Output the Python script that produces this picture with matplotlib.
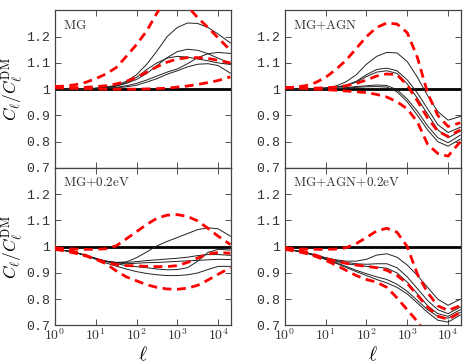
import numpy as np
import matplotlib
matplotlib.use('Agg')
import matplotlib.pyplot as plt
from matplotlib.ticker import FixedLocator, FixedFormatter, LogLocator, NullFormatter

plt.rcParams['mathtext.fontset'] = 'cm'

# multipole sampling (log spaced)
ell = [1, 1.78, 3.16, 5.62, 10, 17.8, 31.6, 56.2, 100, 178, 316, 562,
       1000, 1780, 3160, 5620, 10000, 20000]

# MG
mg_black = [
    [1.0, 1.0, 1.001, 1.002, 1.004, 1.008, 1.015, 1.03, 1.055, 1.095, 1.145, 1.20, 1.235, 1.252, 1.25, 1.235, 1.21, 1.176],
    [1.0, 1.0, 1.0, 1.001, 1.003, 1.006, 1.012, 1.022, 1.037, 1.06, 1.09, 1.12, 1.143, 1.152, 1.148, 1.135, 1.118, 1.098],
    [1.0, 1.0, 1.0, 1.001, 1.003, 1.006, 1.012, 1.025, 1.045, 1.075, 1.10, 1.118, 1.125, 1.122, 1.115, 1.108, 1.10, 1.094],
    [1.0, 1.0, 1.0, 1.0, 1.002, 1.004, 1.007, 1.013, 1.022, 1.035, 1.05, 1.065, 1.077, 1.097, 1.12, 1.135, 1.14, 1.136],
    [1.0, 1.0, 1.0, 1.0, 1.001, 1.003, 1.005, 1.009, 1.015, 1.027, 1.04, 1.057, 1.07, 1.085, 1.095, 1.097, 1.09, 1.061],
]
mg_red = [
    [1.01, 1.012, 1.017, 1.026, 1.04, 1.058, 1.082, 1.125, 1.17, 1.222, 1.29, 1.35, 1.37, 1.315, 1.272, 1.235, 1.195, 1.148],
    [1.005, 1.005, 1.006, 1.007, 1.01, 1.013, 1.02, 1.03, 1.045, 1.065, 1.085, 1.103, 1.115, 1.12, 1.12, 1.117, 1.11, 1.10],
    [1.007, 1.005, 1.003, 1.002, 1.001, 1.0, 1.0, 1.0, 1.0, 1.001, 1.002, 1.004, 1.008, 1.012, 1.018, 1.025, 1.033, 1.047],
]

# MG+AGN
agn_black = [
    [1.0, 1.0, 1.001, 1.002, 1.005, 1.012, 1.028, 1.055, 1.095, 1.125, 1.14, 1.138, 1.105, 1.045, 0.975, 0.915, 0.882, 0.896],
    [1.0, 1.0, 1.0, 1.002, 1.004, 1.008, 1.015, 1.03, 1.055, 1.075, 1.08, 1.07, 1.035, 0.985, 0.925, 0.865, 0.835, 0.855],
    [1.0, 1.0, 1.0, 1.002, 1.004, 1.007, 1.013, 1.027, 1.048, 1.065, 1.07, 1.06, 1.02, 0.965, 0.905, 0.845, 0.815, 0.84],
    [1.0, 1.0, 1.0, 1.001, 1.002, 1.004, 1.006, 1.01, 1.013, 1.016, 1.014, 0.998, 0.962, 0.915, 0.86, 0.815, 0.796, 0.825],
    [1.0, 1.0, 1.0, 1.0, 1.001, 1.002, 1.004, 1.007, 1.009, 1.01, 1.008, 0.99, 0.952, 0.90, 0.845, 0.80, 0.783, 0.81],
]
agn_red = [
    [1.005, 1.008, 1.013, 1.025, 1.045, 1.075, 1.11, 1.155, 1.20, 1.235, 1.252, 1.248, 1.215, 1.12, 0.985, 0.90, 0.858, 0.872],
    [1.005, 1.005, 1.004, 1.004, 1.005, 1.008, 1.013, 1.022, 1.035, 1.05, 1.058, 1.055, 1.015, 0.955, 0.89, 0.84, 0.82, 0.845],
    [1.007, 1.005, 1.003, 1.0, 0.998, 0.996, 0.993, 0.99, 0.987, 0.98, 0.97, 0.952, 0.925, 0.875, 0.79, 0.755, 0.745, 0.80],
]

# MG+0.2eV
nu_black = [
    [0.99, 0.985, 0.978, 0.967, 0.955, 0.945, 0.94, 0.942, 0.958, 0.98, 1.003, 1.02, 1.035, 1.05, 1.065, 1.072, 1.068, 1.04],
    [0.99, 0.985, 0.978, 0.967, 0.955, 0.945, 0.94, 0.94, 0.943, 0.947, 0.95, 0.953, 0.956, 0.96, 0.966, 0.97, 0.97, 0.967],
    [0.99, 0.985, 0.978, 0.967, 0.955, 0.945, 0.938, 0.935, 0.937, 0.939, 0.94, 0.942, 0.944, 0.946, 0.948, 0.95, 0.952, 0.951],
    [0.99, 0.985, 0.978, 0.967, 0.955, 0.943, 0.935, 0.928, 0.924, 0.92, 0.915, 0.912, 0.913, 0.92, 0.945, 0.978, 0.99, 0.987],
    [0.99, 0.985, 0.978, 0.966, 0.952, 0.938, 0.926, 0.915, 0.905, 0.898, 0.893, 0.89, 0.89, 0.893, 0.9, 0.913, 0.925, 0.925],
]
nu_red = [
    [0.993, 0.992, 0.991, 0.99, 0.99, 0.992, 1.003, 1.03, 1.057, 1.085, 1.108, 1.12, 1.122, 1.115, 1.098, 1.07, 1.04, 1.008],
    [0.997, 0.99, 0.98, 0.967, 0.953, 0.94, 0.932, 0.928, 0.927, 0.925, 0.924, 0.924, 0.928, 0.94, 0.957, 0.972, 0.978, 0.975],
    [0.99, 0.983, 0.975, 0.965, 0.952, 0.935, 0.908, 0.885, 0.87, 0.855, 0.845, 0.839, 0.838, 0.842, 0.853, 0.873, 0.895, 0.92],
]

# MG+AGN+0.2eV
agnnu_black = [
    [0.99, 0.985, 0.978, 0.968, 0.958, 0.95, 0.945, 0.945, 0.952, 0.968, 0.973, 0.96, 0.93, 0.89, 0.845, 0.80, 0.777, 0.80],
    [0.99, 0.985, 0.978, 0.968, 0.957, 0.947, 0.94, 0.935, 0.933, 0.935, 0.935, 0.92, 0.885, 0.84, 0.795, 0.76, 0.745, 0.77],
    [0.99, 0.985, 0.978, 0.967, 0.956, 0.945, 0.935, 0.93, 0.925, 0.922, 0.918, 0.90, 0.865, 0.82, 0.775, 0.745, 0.735, 0.76],
    [0.99, 0.985, 0.977, 0.966, 0.953, 0.94, 0.925, 0.91, 0.897, 0.885, 0.875, 0.857, 0.83, 0.795, 0.76, 0.735, 0.728, 0.75],
    [0.99, 0.985, 0.977, 0.965, 0.951, 0.937, 0.921, 0.905, 0.89, 0.875, 0.862, 0.845, 0.82, 0.785, 0.75, 0.72, 0.713, 0.74],
]
agnnu_red = [
    [0.993, 0.992, 0.991, 0.99, 0.99, 0.991, 0.996, 1.012, 1.035, 1.06, 1.07, 1.055, 1.0, 0.895, 0.825, 0.775, 0.757, 0.776],
    [0.997, 0.99, 0.98, 0.968, 0.955, 0.945, 0.937, 0.93, 0.925, 0.92, 0.91, 0.89, 0.86, 0.815, 0.77, 0.735, 0.724, 0.75],
    [0.99, 0.983, 0.975, 0.963, 0.948, 0.93, 0.91, 0.89, 0.875, 0.865, 0.845, 0.805, 0.76, 0.715, 0.66, 0.62, 0.60, 0.64],
]

panel_names = [r'$\mathrm{MG}$', r'$\mathrm{MG{+}AGN}$', r'$\mathrm{MG{+}0.2eV}$',
               r'$\mathrm{MG{+}AGN{+}0.2eV}$']
panel_black = [mg_black, agn_black, nu_black, agnnu_black]
panel_red = [mg_red, agn_red, nu_red, agnnu_red]

yticks = [0.7, 0.8, 0.9, 1.0, 1.1, 1.2]
ytick_labels = ['0.7', '0.8', '0.9', '1', '1.1', '1.2']
xticks = [1, 10, 100, 1000, 10000]
xtick_labels = [r'$\mathtt{10^{%d}}$' % i for i in range(5)]

fig = plt.figure(figsize=(4.64, 3.64), dpi=100)
lefts = [0.1185, 0.614]
bottoms = [0.5385, 0.1058]
w, h = 0.379, 0.433

for i in range(4):
    row, col = i // 2, i % 2
    ax = fig.add_axes([lefts[col], bottoms[row], w, h])
    ax.axhline(1.0, color='black', lw=2.0, zorder=2)
    for y in panel_black[i]:
        ax.plot(ell, y, color='#222222', lw=0.7, zorder=3)
    for y in panel_red[i]:
        ax.plot(ell, y, color='red', lw=2.0, ls=(0, (3.2, 2.0)), zorder=4)
    ax.set_xscale('log')
    ax.set_xlim(1, 2.05e4)
    ax.set_ylim(0.7, 1.3)
    ax.yaxis.set_major_locator(FixedLocator(yticks))
    ax.yaxis.set_major_formatter(FixedFormatter(ytick_labels))
    ax.xaxis.set_major_locator(FixedLocator(xticks))
    ax.xaxis.set_minor_locator(LogLocator(base=10, subs=np.arange(2, 10)))
    ax.xaxis.set_minor_formatter(NullFormatter())
    if row == 1:
        ax.xaxis.set_major_formatter(FixedFormatter(xtick_labels))
        ax.set_xlabel(r'$\ell$', fontsize=14, va='top')
        ax.xaxis.set_label_coords(0.5, -0.125)
    else:
        ax.xaxis.set_major_formatter(NullFormatter())
    ax.tick_params(which='both', direction='in', top=True, right=True,
                   labelsize=9.5, colors='#333333', labelcolor='#333333')
    ax.tick_params(which='major', length=4, width=0.6)
    ax.tick_params(which='minor', length=2, width=0.5)
    ax.tick_params(axis='x', labelsize=10, pad=1.5)
    for lab in ax.get_yticklabels():
        lab.set_family('Liberation Mono')
    for s in ax.spines.values():
        s.set_color('#444444')
        s.set_linewidth(0.9)
    if col == 0:
        ax.set_ylabel(r'$C_\ell/C_\ell^{\rm DM}$', fontsize=12.5)
        ax.yaxis.set_label_coords(-0.17, 0.5)
    ax.text(0.045, 0.905, panel_names[i], transform=ax.transAxes,
            fontsize=9.5, color='#333333', va='center')

fig.savefig('out.png', dpi=100)
